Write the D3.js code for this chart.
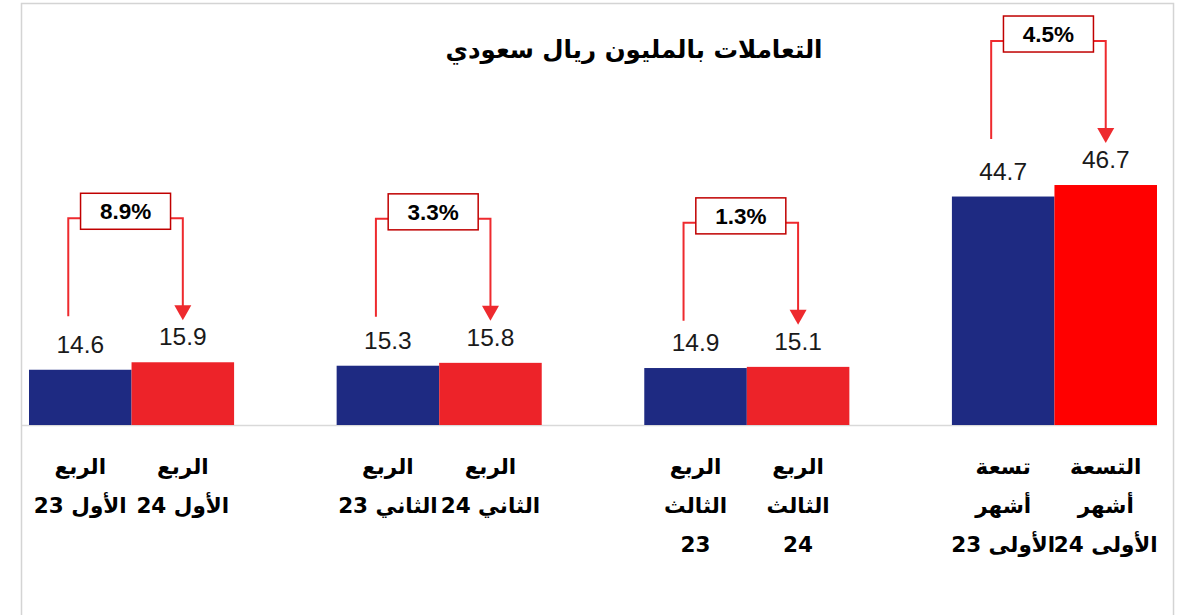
<!DOCTYPE html>
<html>
<head>
<meta charset="utf-8">
<script src="https://cdn.jsdelivr.net/npm/d3@7"></script>
<style>
  html, body { margin: 0; padding: 0; background: #fff; }
  svg { display: block; }
</style>
</head>
<body>
<svg id="chart" width="1191" height="615"></svg>
<script>
// ---- data ----
const groups = ["Q1", "Q2", "Q3", "9M"];
const series = ["2023", "2024"];
const values2023 = [14.6, 15.3, 14.9, 44.7];
const values2024 = [15.9, 15.8, 15.1, 46.7];
const growthLabels = ["8.9%", "3.3%", "1.3%", "4.5%"];
const labels2023 = [["الربع", "الأول 23"], ["الربع", "الثاني 23"], ["الربع", "الثالث", "23"], ["تسعة", "أشهر", "الأولى 23"]];
const labels2024 = [["الربع", "الأول 24"], ["الربع", "الثاني 24"], ["الربع", "الثالث", "24"], ["التسعة", "أشهر", "الأولى 24"]];
const title = "التعاملات بالمليون ريال سعودي";

// ---- layout ----
const svg = d3.select("#chart");
const baseY = 425;
const arabicFont = "'DejaVu Sans', 'Noto Sans', sans-serif";
const latinFont = "'Liberation Sans', Arial, sans-serif";

svg.append("rect")
  .attr("x", 21.5).attr("y", 3.5)
  .attr("width", 1152).attr("height", 640)
  .attr("fill", "#fff").attr("stroke", "#d4d4d4").attr("stroke-width", 1.5);

const x0 = d3.scaleBand().domain(groups).range([29, 1157]).paddingInner(1 / 3).paddingOuter(0);
const x1 = d3.scaleBand().domain(series).range([0, x0.bandwidth()]).padding(0);
const y = d3.scaleLinear().domain([5, 50]).range([baseY, baseY - 45 * 5.755]);

const rows = groups.map((g, i) => ({
  g, i,
  bars: [
    { s: "2023", v: values2023[i], lab: labels2023[i] },
    { s: "2024", v: values2024[i], lab: labels2024[i] }
  ]
}));

const colorFor = (s, i) => s === "2023" ? "#1e2a82" : (i === 3 ? "#ff0000" : "#ed2329");

// axis line
svg.append("line")
  .attr("x1", 22).attr("x2", x0.range()[1])
  .attr("y1", baseY + 0.5).attr("y2", baseY + 0.5)
  .attr("stroke", "#d9d9d9").attr("stroke-width", 1.5);

const gGroups = svg.selectAll("g.grp").data(rows).join("g")
  .attr("class", "grp")
  .attr("transform", d => `translate(${x0(d.g)},0)`);

gGroups.selectAll("rect.bar").data(d => d.bars.map(b => ({ ...b, i: d.i }))).join("rect")
  .attr("class", "bar")
  .attr("x", d => x1(d.s))
  .attr("width", x1.bandwidth())
  .attr("y", d => y(d.v))
  .attr("height", d => baseY - y(d.v))
  .attr("fill", d => colorFor(d.s, d.i));

// value labels
gGroups.selectAll("text.val").data(d => d.bars).join("text")
  .attr("class", "val")
  .attr("x", d => x1(d.s) + x1.bandwidth() / 2)
  .attr("y", d => y(d.v) - 17)
  .attr("text-anchor", "middle")
  .attr("font-family", latinFont)
  .attr("font-size", 24.5)
  .attr("fill", "#1a1a1a")
  .text(d => d.v.toFixed(1));

// category labels (multi-line, RTL)
gGroups.selectAll("text.cat").data(d => d.bars).join("text")
  .attr("class", "cat")
  .attr("x", d => x1(d.s) + x1.bandwidth() / 2)
  .attr("y", 474)
  .attr("text-anchor", "middle")
  .attr("direction", "rtl")
  .attr("font-family", arabicFont)
  .attr("font-weight", "bold")
  .attr("font-size", 21.5)
  .attr("fill", "#000")
  .each(function (d) {
    const t = d3.select(this);
    d.lab.forEach((line, k) => {
      t.append("tspan")
        .attr("x", x1(d.s) + x1.bandwidth() / 2)
        .attr("y", 474 + k * 39)
        .text(line);
    });
  });

// growth callouts
const lineColor = "#ee2a2e";
gGroups.each(function (d) {
  const g = d3.select(this);
  const redTop = y(values2024[d.i]);
  const xl = x1("2023") + x1.bandwidth() / 2 - 12;
  const xr = x1("2024") + x1.bandwidth() / 2;
  const hy = redTop - 144;
  const boxW = 90, boxH = 36;
  const bx = x0.bandwidth() / 2 - 6 - boxW / 2;
  const by = redTop - 169;
  g.append("path")
    .attr("d", `M${xl},${redTop - 46} V${hy} H${bx}`)
    .attr("fill", "none").attr("stroke", lineColor).attr("stroke-width", 2);
  g.append("path")
    .attr("d", `M${bx + boxW},${hy} H${xr} V${redTop - 56}`)
    .attr("fill", "none").attr("stroke", lineColor).attr("stroke-width", 2);
  g.append("path")
    .attr("d", `M${xr - 8.5},${redTop - 57} L${xr + 8.5},${redTop - 57} L${xr},${redTop - 42} Z`)
    .attr("fill", lineColor);
  g.append("rect")
    .attr("x", bx).attr("y", by).attr("width", boxW).attr("height", boxH)
    .attr("fill", "#fff").attr("stroke", "#c00000").attr("stroke-width", 1.5);
  g.append("text")
    .attr("x", bx + boxW / 2).attr("y", by + boxH / 2 + 8)
    .attr("text-anchor", "middle")
    .attr("font-family", latinFont).attr("font-weight", "bold")
    .attr("font-size", 22.5).attr("fill", "#000")
    .text(growthLabels[d.i]);
});

// title
svg.append("text")
  .attr("x", 634).attr("y", 58)
  .attr("text-anchor", "middle")
  .attr("direction", "rtl")
  .attr("font-family", arabicFont)
  .attr("font-weight", "bold")
  .attr("font-size", 24.5)
  .attr("fill", "#000")
  .text(title);
</script>
</body>
</html>
